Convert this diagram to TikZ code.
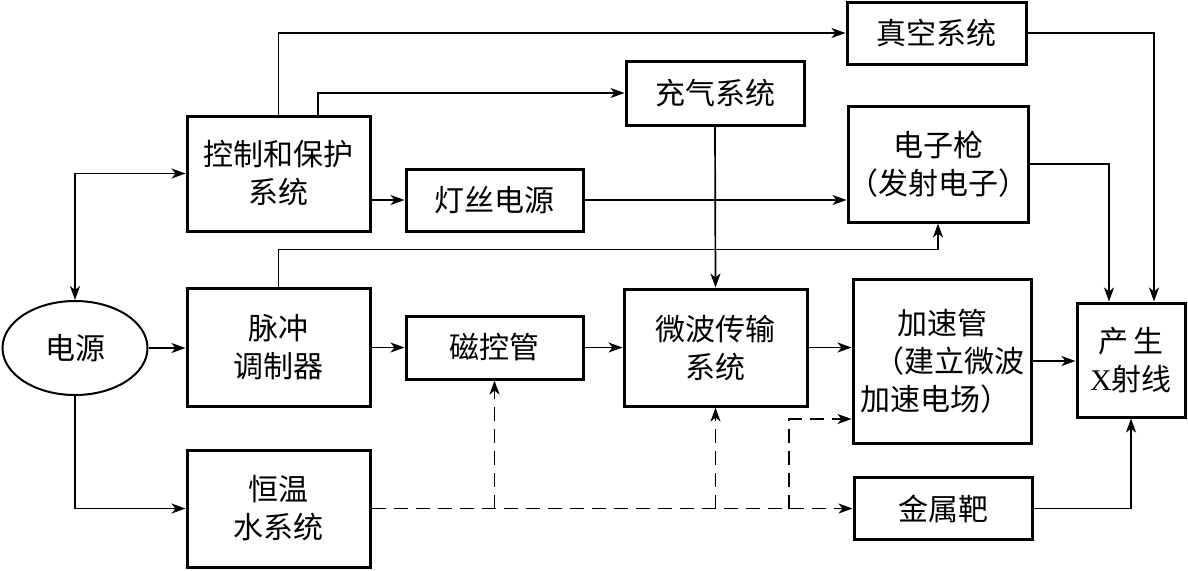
\documentclass[tikz,border=0pt]{standalone}
\usepackage{fontspec}
\setmainfont{Noto Sans CJK SC}
\newfontfamily\serifx{Liberation Serif}
\usetikzlibrary{arrows.meta,shapes.geometric,calc}
\begin{document}
\begin{tikzpicture}[x=0.5pt,y=-0.5pt,
  box/.style={draw,line width=1.5pt,align=center,inner sep=0pt,font=\fontsize{15}{19}\selectfont},
  tip/.tip={Stealth[length=7pt,width=5pt,inset=2pt]},
  conn/.style={line width=0.85pt,-tip},
  dconn/.style={conn,dash pattern=on 7pt off 4pt},
]
\useasboundingbox (0,0) rectangle (1188,570);

\node[box,minimum width=91.5pt,minimum height=57.5pt] (ctrl) at (278.5,173.5) {控制和保护\\系统};
\node[box,minimum width=88.5pt,minimum height=31pt] (fil) at (494.5,200) {灯丝电源};
\node[box,minimum width=89.5pt,minimum height=31pt] (vac) at (936.5,33) {真空系统};
\node[box,minimum width=89pt,minimum height=32pt] (gas) at (715,93) {充气系统};
\node[box,minimum width=89pt,minimum height=58pt] (gun) at (938,164) {电子枪\\（发射电子）};
\node[box,ellipse,line width=1pt,minimum width=72.5pt,minimum height=47pt] (src) at (75,348) {电源};
\node[box,minimum width=91.5pt,minimum height=59pt] (pulse) at (278.5,347.5) {脉冲\\调制器};
\node[box,minimum width=88.5pt,minimum height=31.5pt] (mag) at (494.5,347.5) {磁控管};
\node[box,minimum width=91.5pt,minimum height=58.5pt] (wave) at (715.5,347.5) {微波传输\\系统};
\node[box,minimum width=89pt,minimum height=82pt] (acc) at (942,361) {加速管\\\hspace*{7pt}（建立微波\\加速电场）\hspace*{7pt}};
\node[box,minimum width=54pt,minimum height=57pt] (xray) at (1131,360) {产\hspace{3pt}生\\{\serifx X}射线};
\node[box,minimum width=91.5pt,minimum height=58.5pt] (water) at (278.5,508.5) {恒温\\水系统};
\node[box,minimum width=89pt,minimum height=31pt] (target) at (943,508.5) {金属靶};

\coordinate (j) at (789,508.5);
\coordinate (k) at (789,419);

% solid connectors
\draw[conn] (ctrl.north) |- (vac.west);
\draw[conn] ([xshift=19.75pt]ctrl.north) |- (gas.west);
\draw[conn] (ctrl.east |- fil.west) -- (fil.west);
\draw[conn] (fil.east) -- (fil.east -| gun.west);
\draw[conn] (pulse.north) |- ($(gun.south)+(0,26)$) -- (gun.south);
\draw[conn] (gas.south) -- (wave.north);
\draw[conn] (gun.east) -| ([xshift=-11pt]xray.north);
\draw[conn] (vac.east) -| ([xshift=11.5pt]xray.north);
\draw[line width=0.85pt,tip-tip] (ctrl.west) -| (src.north);
\draw[conn] (src.east) -- (src.east -| pulse.west);
\draw[conn] (src.south) |- (water.west);
\draw[conn] (pulse.east) -- (mag.west);
\draw[conn] (mag.east) -- (wave.west);
\draw[conn] (wave.east) -- (wave.east -| acc.west);
\draw[conn] (acc.east) -- (acc.east -| xray.west);
\draw[conn] (target.east) -| (xray.south);

% dashed connectors
\draw[dconn] (water.east) -- (water.east -| target.west);
\draw[dconn] (mag.south |- water.east) -- (mag.south);
\draw[dconn] (wave.south |- water.east) -- (wave.south);
\draw[dconn] (j) -- (k) -- (k -| acc.west);
\end{tikzpicture}
\end{document}
